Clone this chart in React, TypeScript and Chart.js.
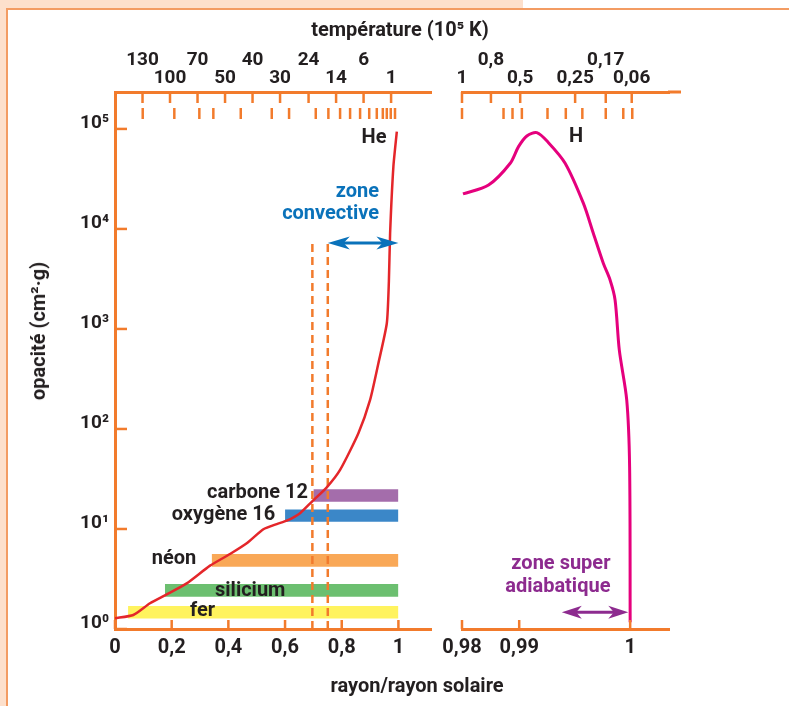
import React, { useEffect, useRef } from 'react';
import { Chart, registerables, LinearScale } from 'chart.js';

Chart.register(...registerables);

// ---------------- DATA ----------------
// bottom axes (rayon / rayon solaire)
const radiusTicks = [0, 0.2, 0.4, 0.6, 0.8, 1];
const radiusTickLabels = ['0', '0,2', '0,4', '0,6', '0,8', '1'];
const surfaceTicks = [0.98, 0.99, 1];
const surfaceTickLabels = ['0,98', '0,99', '1'];

// vertical axis (opacité)
const opacityTicks = [1, 10, 100, 1000, 10000, 100000];
const opacityTickLabels = ['10⁰', '10¹', '10²', '10³', '10⁴', '10⁵'];

// top axes (température, 10^5 K), positioned on the radius scale
const tempRadiusCore = [0.0971, 0.1941, 0.2912, 0.3883, 0.4853, 0.5824, 0.683, 0.7801, 0.8771, 0.9742];
const tempLabelsCore = ['130', '100', '70', '50', '40', '30', '24', '14', '6', '1'];
const tempRowCore = [0, 1, 0, 1, 0, 1, 0, 1, 0, 1];
const tempMinorCore = [0.0978, 0.2093, 0.2976, 0.347, 0.4437, 0.5531, 0.6142, 0.7084, 0.7529, 0.7942,
  0.8295, 0.8648, 0.897, 0.9237, 0.945, 0.959, 0.973, 0.988];
const tempRadiusSurface = [0.98, 0.98506, 0.99009, 0.99504, 0.9978, 1.00014];
const tempLabelsSurface = ['1', '0,8', '0,5', '0,25', '0,17', '0,06'];
const tempRowSurface = [1, 0, 1, 1, 0, 1];
const tempMinorSurface = [0.98, 0.98726, 0.98883, 0.99024, 0.99255, 0.9942, 0.99569, 0.9978, 0.99938, 1.00019];

// opacity of helium-dominated interior (red curve)
const heRadius = [0, 0.0646, 0.1235, 0.1825, 0.2531, 0.3353, 0.4059, 0.4649, 0.5235, 0.5708, 0.6061,
  0.653, 0.6943, 0.7473, 0.7942, 0.8588, 0.9001, 0.9294, 0.9591, 0.9664, 0.9707, 0.9823, 0.9944];
const heOpacity = [1.28, 1.38, 1.81, 2.22, 2.86, 4.3, 5.62, 7.19, 9.93, 11.2, 12.1,
  14.4, 18.7, 26.1, 38.9, 90.6, 195, 454, 1140, 3000, 9060, 42000, 94000];

// opacity near the surface, hydrogen (pink curve)
const hRadius = [0.98017, 0.98464, 0.98843, 0.98988, 0.99069, 0.99159, 0.99264, 0.99414, 0.99578, 0.99668,
  0.99758, 0.99819, 0.99864, 0.99902, 0.99969, 0.99995, 1.0];
const hOpacity = [22400, 27500, 45400, 66500, 85100, 91800, 72900, 45400, 18100, 9060,
  4540, 3090, 1950, 617, 195, 42, 1.17];

// element bands
const bandNames = ['carbone 12', 'oxygène 16', 'néon', 'silicium', 'fer'];
const bandStart = [0.7, 0.6, 0.341, 0.176, 0.046];
const bandLow = [18.7, 11.8, 4.2, 2.1, 1.27];
const bandHigh = [24.9, 15.7, 5.62, 2.82, 1.7];

// zones
const convectiveLimits = [0.6964, 0.7508];
const convectiveTop = 7240;
const convectiveArrow = [0.7508, 1];
const superAdiabaticArrow = [0.99384, 0.99983];
const superAdiabaticLevel = 1.47;

// ---------------- STYLE ----------------
const ORANGE = '#f27b2c';
const DARK = '#231f20';
const RED = '#e4262a';
const PINK = '#e5007d';
const BLUE = '#0a72ba';
const PURPLE = '#8d2b8f';
const BAND_COLORS = ['#a46dab', '#3b87c8', '#f9a857', '#6cbf70', '#fff35e'];
const FONT = 'Roboto';

Chart.defaults.font.family = FONT;

// piecewise scale for the surface panel (0,98 -> 0,99 compressed vs 0,99 -> 1)
function toU(r: number) {
  if (r <= 0.99) return (r - 0.98) / 0.01;
  return 1 + ((r - 0.99) / 0.01) * 1.94;
}
class SurfaceScale extends LinearScale {
  static id = 'surface';
  static defaults = {};
  getPixelForValue(value: number) {
    const u0 = toU((this as any).min);
    const u1 = toU((this as any).max);
    return (this as any).getPixelForDecimal((toU(value) - u0) / (u1 - u0));
  }
}
Chart.register(SurfaceScale as any);

type Txt = { text: string; x: number; y: number; align: CanvasTextAlign; color: string };
type Arrow = { x1: number; x2: number; y: number; color: string; head: number; half: number; width: number };

function makeDecor(cfg: { minor: number[]; yTicks: boolean; topExtend: number }) {
  return {
    id: 'decor',
    afterDraw(chart: any) {
      const { ctx, chartArea } = chart;
      const { top, bottom, left, right } = chartArea;
      const xb = chart.scales.x;
      const xt = chart.scales.xt;
      const ys = chart.scales.y;
      ctx.save();
      ctx.strokeStyle = ORANGE;
      ctx.lineWidth = 2.5;
      const seg = (x1: number, y1: number, x2: number, y2: number) => {
        ctx.beginPath();
        ctx.moveTo(x1, y1);
        ctx.lineTo(x2, y2);
        ctx.stroke();
      };
      xt.ticks.forEach((t: any) => {
        const px = xt.getPixelForValue(t.value);
        seg(px, top, px, top + 11);
      });
      cfg.minor.forEach((v) => {
        const px = xt.getPixelForValue(v);
        seg(px, top + 16, px, top + 27);
      });
      xb.ticks.forEach((t: any) => {
        const px = xb.getPixelForValue(t.value);
        seg(px, bottom, px, bottom - 9);
      });
      if (cfg.yTicks) {
        ys.ticks.forEach((t: any) => {
          const py = ys.getPixelForValue(t.value);
          seg(left, py, left + 12, py);
        });
      }
      if (cfg.topExtend) {
        ctx.lineWidth = 3;
        seg(right - 1, top, right + cfg.topExtend, top);
      }
      ctx.restore();
    },
  };
}

function makeAnnot(texts: Txt[], arrows: Arrow[]) {
  return {
    id: 'annot',
    afterDatasetsDraw(chart: any) {
      const { ctx } = chart;
      const xs = chart.scales.x;
      const ys = chart.scales.y;
      ctx.save();
      arrows.forEach((a) => {
        const x1 = xs.getPixelForValue(a.x1);
        const x2 = xs.getPixelForValue(a.x2);
        const y = ys.getPixelForValue(a.y);
        ctx.strokeStyle = a.color;
        ctx.fillStyle = a.color;
        ctx.lineWidth = a.width;
        ctx.beginPath();
        ctx.moveTo(x1 + a.head * 0.6, y);
        ctx.lineTo(x2 - a.head * 0.6, y);
        ctx.stroke();
        ctx.beginPath();
        ctx.moveTo(x1, y);
        ctx.lineTo(x1 + a.head, y - a.half);
        ctx.lineTo(x1 + a.head * 0.72, y);
        ctx.lineTo(x1 + a.head, y + a.half);
        ctx.closePath();
        ctx.fill();
        ctx.beginPath();
        ctx.moveTo(x2, y);
        ctx.lineTo(x2 - a.head, y - a.half);
        ctx.lineTo(x2 - a.head * 0.72, y);
        ctx.lineTo(x2 - a.head, y + a.half);
        ctx.closePath();
        ctx.fill();
      });
      ctx.font = `bold 20px ${FONT}`;
      ctx.textBaseline = 'middle';
      texts.forEach((t) => {
        ctx.fillStyle = t.color;
        ctx.textAlign = t.align;
        ctx.fillText(t.text, xs.getPixelForValue(t.x), ys.getPixelForValue(t.y));
      });
      ctx.restore();
    },
  };
}

const tickFont = { size: 20, weight: 'bold' as const, lineHeight: 1.2 };
const topFont = { size: 19, weight: 'bold' as const, lineHeight: 0.95 };
const Y_MAX = 234000;

function yScale(display: boolean) {
  return {
    type: 'logarithmic',
    position: 'left',
    min: 1,
    max: Y_MAX,
    display,
    afterBuildTicks: (s: any) => {
      s.ticks = opacityTicks.map((v) => ({ value: v }));
    },
    afterFit: (s: any) => {
      s.width = display ? 115 : 0;
    },
    ticks: {
      callback: (_v: any, i: number) => opacityTickLabels[i],
      font: { size: 19, weight: 'bold' },
      color: DARK,
      padding: 6,
      labelOffset: -6,
      autoSkip: false,
    },
    grid: { display: false, drawTicks: false },
    border: { display: true, color: ORANGE, width: 3 },
  };
}

function bottomScale(type: string, min: number, max: number, ticks: number[], labels: string[]) {
  return {
    type,
    position: 'bottom',
    min,
    max,
    afterBuildTicks: (s: any) => {
      s.ticks = ticks.map((v) => ({ value: v }));
    },
    afterFit: (s: any) => {
      s.height = 77;
    },
    ticks: {
      callback: (_v: any, i: number) => labels[i],
      font: tickFont,
      color: DARK,
      padding: 7,
      autoSkip: false,
      maxRotation: 0,
      minRotation: 0,
    },
    grid: { display: false, drawTicks: false },
    border: { display: true, color: ORANGE, width: 3 },
  };
}

function topScale(type: string, min: number, max: number, ticks: number[], labels: string[], rows: number[]) {
  return {
    type,
    position: 'top',
    min,
    max,
    afterBuildTicks: (s: any) => {
      s.ticks = ticks.map((v) => ({ value: v }));
    },
    afterFit: (s: any) => {
      s.height = 92;
    },
    ticks: {
      callback: (_v: any, i: number) => (rows[i] === 0 ? [labels[i], ''] : ['', labels[i]]),
      font: topFont,
      color: DARK,
      padding: 5,
      autoSkip: false,
      maxRotation: 0,
      minRotation: 0,
    },
    grid: { display: false, drawTicks: false },
    border: { display: true, color: ORANGE, width: 3 },
  };
}

function leftConfig(): any {
  const heCurve = heRadius.map((r, i) => ({ x: r, y: heOpacity[i] }));
  const texts: Txt[] = [
    { text: 'He', x: 0.914, y: 80700, align: 'center', color: DARK },
    { text: 'zone', x: 0.932, y: 23600, align: 'right', color: BLUE },
    { text: 'convective', x: 0.932, y: 14000, align: 'right', color: BLUE },
    { text: bandNames[0], x: 0.681, y: 22.9, align: 'right', color: DARK },
    { text: bandNames[1], x: 0.565, y: 13.8, align: 'right', color: DARK },
    { text: bandNames[2], x: 0.1295, y: 5.01, align: 'left', color: DARK },
    { text: bandNames[3], x: 0.353, y: 2.42, align: 'left', color: DARK },
    { text: bandNames[4], x: 0.265, y: 1.52, align: 'left', color: DARK },
  ];
  const arrows: Arrow[] = [
    { x1: convectiveArrow[0], x2: convectiveArrow[1], y: convectiveTop, color: BLUE, head: 22, half: 6.5, width: 3 },
  ];
  return {
    type: 'line',
    data: {
      datasets: [
        {
          label: 'He',
          data: heCurve,
          borderColor: RED,
          borderWidth: 2.5,
          pointRadius: 0,
          tension: 0.2,
          fill: false,
        },
        ...convectiveLimits.map((r) => ({
          label: 'limite',
          data: [
            { x: r, y: 1 },
            { x: r, y: convectiveTop },
          ],
          borderColor: ORANGE,
          borderWidth: 2.5,
          borderDash: [8, 5],
          pointRadius: 0,
          fill: false,
        })),
        ...bandNames.map((n, i) => ({
          label: n,
          data: [
            { x: bandStart[i], y: bandHigh[i] },
            { x: 1, y: bandHigh[i] },
          ],
          borderColor: 'transparent',
          borderWidth: 0,
          pointRadius: 0,
          backgroundColor: BAND_COLORS[i],
          fill: { value: bandLow[i] },
        })),
      ],
    },
    options: {
      animation: false,
      responsive: false,
      events: [],
      layout: { padding: { left: 0, right: 19, top: 0, bottom: 0 } },
      plugins: { legend: { display: false }, tooltip: { enabled: false } },
      scales: {
        x: bottomScale('linear', 0, 1.115, radiusTicks, radiusTickLabels),
        xt: topScale('linear', 0, 1.115, tempRadiusCore, tempLabelsCore, tempRowCore),
        y: yScale(true),
      },
    },
    plugins: [makeDecor({ minor: tempMinorCore, yTicks: true, topExtend: 0 }), makeAnnot(texts, arrows)],
  };
}

function rightConfig(): any {
  const hCurve = hRadius.map((r, i) => ({ x: r, y: hOpacity[i] }));
  const texts: Txt[] = [
    { text: 'H', x: 0.99513, y: 83800, align: 'center', color: DARK },
    { text: 'zone super', x: 0.99376, y: 4.44, align: 'center', color: PURPLE },
    { text: 'adiabatique', x: 0.99348, y: 2.61, align: 'center', color: PURPLE },
  ];
  const arrows: Arrow[] = [
    { x1: superAdiabaticArrow[0], x2: superAdiabaticArrow[1], y: superAdiabaticLevel, color: PURPLE, head: 20, half: 6.5, width: 3 },
  ];
  return {
    type: 'line',
    data: {
      datasets: [
        {
          label: 'H',
          data: hCurve,
          borderColor: PINK,
          borderWidth: 3,
          pointRadius: 0,
          tension: 0.3,
          fill: false,
        },
      ],
    },
    options: {
      animation: false,
      responsive: false,
      events: [],
      layout: { padding: { left: 42, right: 120, top: 0, bottom: 0 } },
      plugins: { legend: { display: false }, tooltip: { enabled: false } },
      scales: {
        x: bottomScale('surface', 0.98, 1.0035, surfaceTicks, surfaceTickLabels),
        xt: topScale('surface', 0.98, 1.0035, tempRadiusSurface, tempLabelsSurface, tempRowSurface),
        y: yScale(false),
      },
    },
    plugins: [makeDecor({ minor: tempMinorSurface, yTicks: false, topExtend: 12 }), makeAnnot(texts, arrows)],
  };
}

const textStyle: React.CSSProperties = {
  position: 'absolute',
  font: `bold 20px ${FONT}`,
  color: DARK,
  whiteSpace: 'nowrap',
  lineHeight: 1,
  transform: 'translate(-50%, -50%)',
};

export default function App() {
  const leftRef = useRef<HTMLCanvasElement>(null);
  const rightRef = useRef<HTMLCanvasElement>(null);

  useEffect(() => {
    const a = new Chart(leftRef.current as HTMLCanvasElement, leftConfig());
    const b = new Chart(rightRef.current as HTMLCanvasElement, rightConfig());
    return () => {
      a.destroy();
      b.destroy();
    };
  }, []);

  return (
    <div style={{ position: 'absolute', left: 0, top: 0, width: 789, height: 706, background: '#ffffff', overflow: 'hidden' }}>
      <div style={{ position: 'absolute', left: 0, top: 0, width: 523, height: 8, background: '#fde0cc' }} />
      <div style={{ position: 'absolute', left: 0, top: 0, width: 7, height: 706, background: '#fde0cc' }} />
      <div style={{ position: 'absolute', left: 6, top: 8, width: 783, height: 2, background: '#f39c63' }} />
      <div style={{ position: 'absolute', left: 6, top: 8, width: 2, height: 698, background: '#f39c63' }} />
      <canvas ref={leftRef} width={450} height={706} style={{ position: 'absolute', left: 0, top: 0 }} />
      <canvas ref={rightRef} width={369} height={706} style={{ position: 'absolute', left: 420, top: 0 }} />
      <div style={{ ...textStyle, left: 400, top: 29 }}>température (10⁵ K)</div>
      <div style={{ ...textStyle, left: 417, top: 685 }}>rayon/rayon solaire</div>
      <div style={{ ...textStyle, left: 38, top: 331, transform: 'translate(-50%, -50%) rotate(-90deg)' }}>opacité (cm²·g)</div>
    </div>
  );
}
